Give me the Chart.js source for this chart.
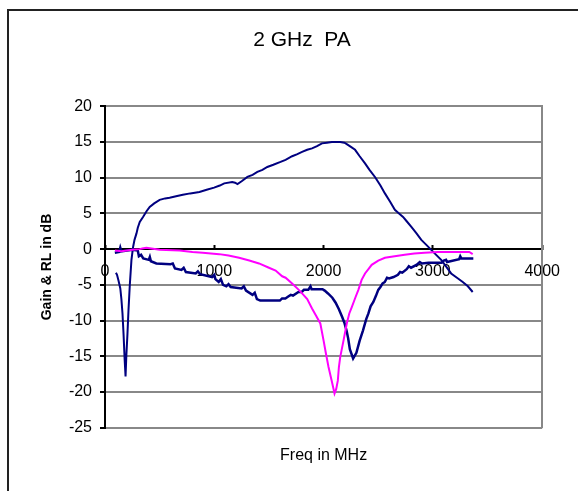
<!DOCTYPE html>
<html>
<head>
<meta charset="utf-8">
<script src="https://cdn.jsdelivr.net/npm/chart.js@4"></script>
<style>
  html, body { margin: 0; padding: 0; background: #fff; overflow: hidden; }
  #frame { position: absolute; left: 7px; top: 9px; width: 800px; height: 700px; border: 2px solid #222; box-sizing: border-box; }
  #chartPA { position: absolute; left: 0; top: 0; }
</style>
</head>
<body>
<div id="frame"></div>
<canvas id="chartPA" width="578" height="491"></canvas>
<script>
const xTicks = [0, 1000, 2000, 3000, 4000];
const yTicks = [-25, -20, -15, -10, -5, 0, 5, 10, 15, 20];

// gain (S21), navy
const gainFreq = [100, 110, 125, 140, 150, 160, 170, 180, 188, 195, 205, 215, 227, 242, 257, 270, 288, 300, 318, 348, 380, 409, 450, 500, 550, 591, 650, 712, 780, 864, 930, 998, 1050, 1091, 1164, 1190, 1212, 1250, 1303, 1350, 1394, 1440, 1485, 1540, 1606, 1652, 1712, 1760, 1803, 1850, 1894, 1940, 1985, 2030, 2076, 2152, 2190, 2212, 2250, 2288, 2330, 2379, 2420, 2470, 2520, 2561, 2610, 2652, 2690, 2727, 2760, 2803, 2850, 2894, 2940, 2985, 3030, 3076, 3120, 3167, 3220, 3273, 3320, 3364];
const gainDb = [-3.3, -3.6, -4.5, -5.5, -7, -9, -12, -15.5, -17.8, -15, -12, -8.5, -5, -1.5, 0.3, 1.3, 2.2, 3.0, 3.8, 4.5, 5.3, 5.9, 6.4, 6.9, 7.1, 7.2, 7.4, 7.6, 7.8, 8.0, 8.3, 8.6, 8.9, 9.2, 9.4, 9.3, 9.1, 9.5, 10.1, 10.4, 10.8, 11.1, 11.5, 11.8, 12.2, 12.5, 13.0, 13.3, 13.6, 13.9, 14.1, 14.4, 14.8, 14.9, 15.0, 15.0, 14.9, 14.7, 14.3, 13.9, 13.0, 12.0, 11.1, 10.1, 8.9, 7.8, 6.6, 5.5, 5.0, 4.5, 3.9, 3.1, 2.2, 1.3, 0.6, -0.1, -0.8, -1.5, -2.4, -3.4, -4.0, -4.6, -5.2, -6.0];

// output return loss, navy
const orlFreq = [90, 130, 140, 150, 250, 300, 310, 330, 350, 400, 410, 420, 470, 600, 620, 640, 700, 720, 740, 830, 850, 870, 980, 1000, 1010, 1040, 1060, 1080, 1110, 1130, 1150, 1250, 1270, 1290, 1350, 1370, 1390, 1420, 1600, 1620, 1650, 1680, 1700, 1720, 1770, 1800, 1820, 1860, 1880, 1890, 1990, 2010, 2040, 2080, 2110, 2140, 2170, 2190, 2210, 2225, 2240, 2270, 2300, 2330, 2360, 2390, 2410, 2430, 2455, 2480, 2500, 2520, 2540, 2560, 2580, 2600, 2640, 2680, 2700, 2720, 2760, 2780, 2800, 2850, 2880, 2900, 2960, 3080, 3100, 3120, 3130, 3240, 3250, 3260, 3370];
const orlDb = [-0.5, -0.4, 0.2, -0.3, -0.1, -0.2, -1.0, -0.8, -1.3, -1.5, -1.1, -1.7, -2.0, -2.1, -2.0, -2.7, -2.9, -2.6, -3.2, -3.4, -3.1, -3.5, -3.9, -3.6, -4.2, -4.6, -4.2, -5.0, -5.2, -4.9, -5.3, -5.5, -5.2, -5.8, -6.4, -6.1, -7.0, -7.2, -7.2, -6.9, -6.9, -6.6, -6.4, -6.5, -6.0, -6.0, -5.7, -5.7, -5.2, -5.6, -5.6, -5.8, -6.2, -6.8, -7.5, -8.4, -9.5, -10.3, -11.4, -12.5, -14.0, -15.3, -14.5, -12.8, -11.4, -9.8, -9.0, -8.0, -7.4, -6.5, -5.7, -5.3, -4.8, -4.6, -4.0, -4.1, -3.9, -3.6, -3.2, -3.3, -2.8, -2.4, -2.6, -2.2, -1.8, -2.0, -1.9, -1.9, -1.6, -1.5, -1.8, -1.4, -1.0, -1.3, -1.3];

// input return loss, magenta
const irlFreq = [91, 150, 200, 250, 318, 340, 379, 424, 500, 682, 800, 894, 1045, 1130, 1227, 1320, 1409, 1500, 1561, 1621, 1652, 1712, 1773, 1803, 1850, 1894, 1930, 1970, 2000, 2020, 2045, 2075, 2100, 2115, 2130, 2140, 2152, 2182, 2212, 2235, 2258, 2290, 2318, 2348, 2379, 2410, 2440, 2500, 2561, 2650, 2742, 2830, 2924, 3045, 3200, 3333, 3364];
const irlDb = [-0.2, -0.3, -0.2, -0.1, 0.0, 0.1, 0.2, 0.1, -0.1, -0.2, -0.4, -0.5, -0.7, -0.9, -1.2, -1.6, -2.0, -2.6, -3.0, -3.8, -4.0, -4.8, -5.7, -6.2, -7.0, -8.3, -9.3, -10.4, -12.8, -14.5, -16.5, -18.5, -20.2, -19.6, -18.4, -16.5, -15.1, -12.8, -10.4, -9.0, -8.1, -6.8, -5.7, -4.3, -3.4, -2.8, -2.2, -1.6, -1.2, -1.0, -0.8, -0.6, -0.5, -0.4, -0.4, -0.4, -0.7];

function toPoints(fs, vs) {
  return fs.map((f, i) => ({ x: f, y: vs[i] }));
}

function lineSet(label, fs, vs, color, width) {
  return {
    label: label,
    data: toPoints(fs, vs),
    showLine: true,
    borderColor: color,
    backgroundColor: color,
    borderWidth: width,
    pointRadius: 0,
    tension: 0
  };
}

const ctx = document.getElementById('chartPA').getContext('2d');

new Chart(ctx, {
  type: 'scatter',
  data: {
    datasets: [
      lineSet('Input RL', irlFreq, irlDb, '#ff00ff', 2),
      lineSet('Output RL', orlFreq, orlDb, '#000080', 2.5),
      lineSet('Gain', gainFreq, gainDb, '#000080', 2)
    ]
  },
  options: {
    responsive: false,
    animation: false,
    layout: { padding: { left: 26, right: 0, top: 0, bottom: 0 } },
    plugins: {
      legend: { display: false },
      tooltip: { enabled: false },
      title: {
        display: true,
        text: '2 GHz  PA',
        color: '#000',
        font: { family: 'Arial', size: 21, weight: 'normal' },
        padding: { top: 28, bottom: 53 }
      }
    },
    scales: {
      x: {
        type: 'linear',
        position: { y: 0 },
        min: 0,
        max: 4000,
        afterBuildTicks: function (scale) {
          scale.ticks = xTicks.map(v => ({ value: v }));
        },
        ticks: {
          color: '#000',
          font: { family: 'Arial', size: 16 },
          padding: 18,
          maxRotation: 0,
          callback: v => String(v)
        },
        grid: {
          drawOnChartArea: false,
          tickLength: -5,
          tickColor: '#000',
          tickWidth: 2
        },
        border: { color: '#000', width: 2 }
      },
      x2: {
        axis: 'x',
        type: 'linear',
        position: 'bottom',
        ticks: { display: false },
        grid: { display: false, drawTicks: false },
        border: { display: false },
        title: {
          display: true,
          text: 'Freq in MHz',
          color: '#000',
          font: { family: 'Arial', size: 16 },
          padding: { top: 18, bottom: 26 }
        }
      },
      y: {
        type: 'linear',
        position: 'left',
        min: -25,
        max: 20,
        afterFit: function (scale) { scale.width = 79; },
        afterBuildTicks: function (scale) {
          scale.ticks = yTicks.map(v => ({ value: v }));
        },
        ticks: {
          color: '#000',
          font: { family: 'Arial', size: 16 },
          padding: 8
        },
        grid: {
          color: '#888',
          lineWidth: 2,
          tickLength: 5,
          tickColor: '#000',
          tickWidth: 2
        },
        border: { color: '#000', width: 2 },
        title: {
          display: true,
          text: 'Gain & RL in dB',
          color: '#000',
          font: { family: 'Arial', size: 14, weight: 'bold' },
          padding: { top: 13, bottom: 0 }
        }
      },
      y2: {
        axis: 'y',
        type: 'linear',
        position: 'right',
        min: -25,
        max: 20,
        afterFit: function (scale) { scale.width = 32; },
        ticks: { display: false },
        grid: { display: true, drawOnChartArea: false, drawTicks: false },
        border: { display: true, color: '#888', width: 2 }
      }
    }
  }
});
</script>
</body>
</html>
